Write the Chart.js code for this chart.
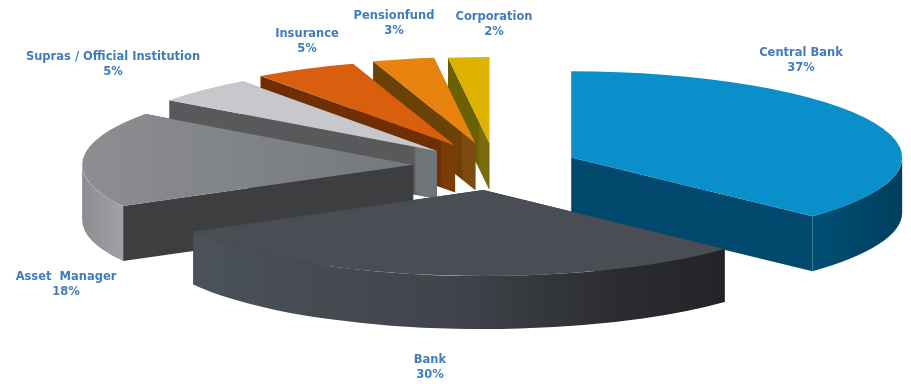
<!DOCTYPE html>
<html>
<head>
<meta charset="utf-8">
<title>Holders by type</title>
<style>
    html, body { margin: 0; padding: 0; background: #fff; }
    canvas { display: block; }
</style>
<script src="https://cdn.jsdelivr.net/npm/chart.js@4/dist/chart.umd.min.js"></script>
</head>
<body>
<canvas id="chartHolders" width="911" height="384"></canvas>
<script>
const categories = ["Central Bank", "Bank", "Asset  Manager", "Supras / Official Institution", "Insurance", "Pensionfund", "Corporation"];
const shares = [37, 30, 18, 5, 5, 3, 2];

// how far each slice is pulled out of the pie, and how thick it is
const pullOut = [83, 93, 82, 82, 88, 90, 88];
const depths = [55, 53, 55, 48, 47, 47, 47];
const topColors = ["#0a8fca", "#4a4d53", "#808386", "#c6c8cb", "#d95f0e", "#e8830f", "#e0b200"];
const wallColors = ["#00496c", "#35383d", "#3c3e40", "#58595b", "#6f2f02", "#6b4205", "#6c6004"];
// lighter strip on the cut face right under the tip of the slice
const stripColors = [null, null, null, "#6f7476", "#7a3d08", "#7b4b10", "#7a6c0c"];
const stripWidths = [0, 0, 0, 24, 15, 14, 11];
const labelSpots = [[801, 53], [430, 360], [66, 277], [113, 57], [307, 34], [394, 16], [494, 17]];

const squash = 0.26;
const pieRadius = 331;
const drawOrder = [6, 5, 4, 3, 0, 2, 1];

function topFill(context) {
    if (context.dataIndex !== 2 || !context.chart.chartArea) {
        return topColors[context.dataIndex];
    }
    // the asset manager slice fades towards its tip
    const area = context.chart.chartArea;
    const middle = (area.left + area.right) / 2;
    const grad = context.chart.ctx.createLinearGradient(middle - pieRadius, 0, middle, 0);
    grad.addColorStop(0, "#8c8e91");
    grad.addColorStop(1, "#74777c");
    return grad;
}

function outerWallFill(ctx, i, left, right) {
    const grad = ctx.createLinearGradient(left, 0, right, 0);
    if (i === 1) {
        grad.addColorStop(0, "#4b5259");
        grad.addColorStop(0.5, "#40434a");
        grad.addColorStop(0.8, "#2a2c30");
        grad.addColorStop(1, "#232427");
    } else if (i === 2) {
        grad.addColorStop(0, "#8a8c90");
        grad.addColorStop(1, "#a0a2a5");
    } else {
        grad.addColorStop(0, "#004f74");
        grad.addColorStop(1, "#003f5e");
    }
    return grad;
}

function cutFace(ctx, apex, angle, radius, i) {
    const rimX = apex.x + Math.cos(angle) * radius;
    const rimY = apex.y + Math.sin(angle) * radius * squash;
    if (stripColors[i] && rimX < apex.x) {
        const grad = ctx.createLinearGradient(rimX, 0, apex.x, 0);
        const stop = Math.max((apex.x - stripWidths[i] - rimX) / (apex.x - rimX), 0);
        grad.addColorStop(0, wallColors[i]);
        grad.addColorStop(stop, wallColors[i]);
        grad.addColorStop(Math.min(stop + 0.02, 1), stripColors[i]);
        grad.addColorStop(1, stripColors[i]);
        ctx.fillStyle = grad;
    } else {
        ctx.fillStyle = wallColors[i];
    }
    ctx.beginPath();
    ctx.moveTo(apex.x, apex.y);
    ctx.lineTo(rimX, rimY);
    ctx.lineTo(rimX, rimY + depths[i]);
    ctx.lineTo(apex.x, apex.y + depths[i]);
    ctx.closePath();
    ctx.fill();
}

function outerWall(ctx, apex, arc, i) {
    // only the part of the rim facing the viewer
    const from = Math.max(arc.startAngle, 0);
    const to = Math.min(arc.endAngle, Math.PI);
    if (to <= from) {
        return;
    }
    const r = arc.outerRadius;
    const left = apex.x + Math.cos(to) * r;
    const right = apex.x + Math.cos(from) * r;
    ctx.fillStyle = outerWallFill(ctx, i, Math.min(left, right), Math.max(left, right));
    ctx.beginPath();
    ctx.ellipse(apex.x, apex.y, r, r * squash, 0, from, to);
    ctx.ellipse(apex.x, apex.y + depths[i], r, r * squash, 0, to, from, true);
    ctx.closePath();
    ctx.fill();
}

const extrudedPie = {
    id: "extrudedPie",
    beforeDatasetsDraw(chart) {
        const ctx = chart.ctx;
        const arcs = chart.getDatasetMeta(0).data;
        drawOrder.forEach((i) => {
            const arc = arcs[i];
            const mid = (arc.startAngle + arc.endAngle) / 2;
            const apex = {
                x: arc.x + Math.cos(mid) * pullOut[i],
                y: arc.y + Math.sin(mid) * pullOut[i] * squash
            };
            cutFace(ctx, apex, arc.startAngle, arc.outerRadius, i);
            cutFace(ctx, apex, arc.endAngle, arc.outerRadius, i);
            outerWall(ctx, apex, arc, i);

            ctx.save();
            ctx.translate(apex.x, apex.y);
            ctx.scale(1, squash);
            ctx.translate(-arc.x, -arc.y);
            arc.draw(ctx);
            ctx.restore();
        });
        return false;
    },
    afterDraw(chart) {
        const ctx = chart.ctx;
        ctx.save();
        ctx.font = "bold 11.5px 'DejaVu Sans'";
        ctx.fillStyle = "#3f7cc0";
        ctx.textAlign = "center";
        ctx.textBaseline = "middle";
        categories.forEach((name, i) => {
            ctx.fillText(name, labelSpots[i][0], labelSpots[i][1]);
            ctx.fillText(shares[i] + "%", labelSpots[i][0], labelSpots[i][1] + 15);
        });
        ctx.restore();
    }
};

new Chart(document.getElementById("chartHolders").getContext("2d"), {
    type: "pie",
    data: {
        labels: categories,
        datasets: [{
            data: shares,
            backgroundColor: topFill,
            borderWidth: 0
        }]
    },
    options: {
        responsive: false,
        animation: false,
        radius: pieRadius,
        layout: { padding: { left: 79, bottom: 52 } },
        plugins: {
            legend: { display: false },
            tooltip: { enabled: false }
        }
    },
    plugins: [extrudedPie]
});
</script>
</body>
</html>
